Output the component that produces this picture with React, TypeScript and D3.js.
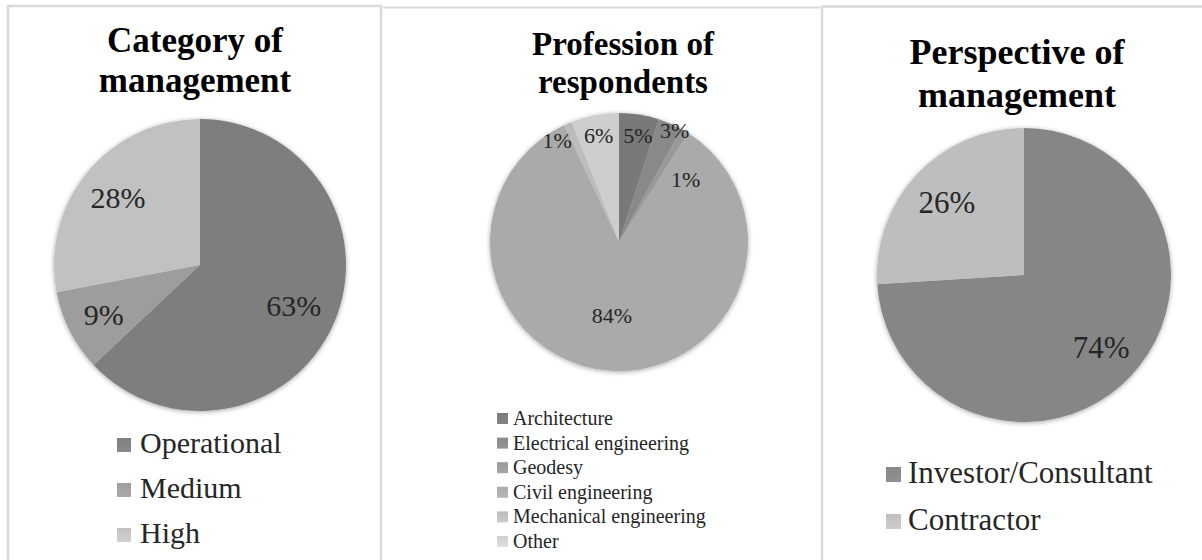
import React from "react";
import * as d3 from "d3";

// ---- data ----
const mgmtCategories = ["Operational", "Medium", "High"];
const mgmtValues = [63, 9, 28];

const professionCategories = [
  "Architecture",
  "Electrical engineering",
  "Geodesy",
  "Civil engineering",
  "Mechanical engineering",
  "Other",
];
const professionValues = [5, 3, 1, 84, 1, 6];

const perspectiveCategories = ["Investor/Consultant", "Contractor"];
const perspectiveValues = [74, 26];

// ---- styles / layout ----
const mgmtColors = ["#848484", "#a4a4a4", "#c9c9c9"];
const professionColors = ["#7e7e7e", "#8f8f8f", "#a0a0a0", "#b1b1b1", "#c4c4c4", "#d7d7d7"];
const perspectiveColors = ["#8c8c8c", "#c6c6c6"];

type PanelCfg = {
  id: string;
  cx: number;
  cy: number;
  r: number;
  title: string[];
  titleX: number;
  titleY: number[];
  titleSize: number;
  labelSize: number;
  labelFactor: number[];
  labelShift: number[];
  legendSquareX: number;
  legendSquare: number;
  legendTextX: number;
  legendY0: number;
  legendStep: number;
  legendSize: number;
};

const panels: PanelCfg[] = [
  {
    id: "p1",
    cx: 200,
    cy: 265,
    r: 146,
    title: ["Category of", "management"],
    titleX: 195,
    titleY: [52, 92],
    titleSize: 35,
    labelSize: 30,
    labelFactor: [0.7, 0.74, 0.73],
    labelShift: [0, 0, 0],
    legendSquareX: 117,
    legendSquare: 14,
    legendTextX: 140,
    legendY0: 453,
    legendStep: 45,
    legendSize: 30,
  },
  {
    id: "p2",
    cx: 619,
    cy: 242,
    r: 129,
    title: ["Profession of", "respondents"],
    titleX: 623,
    titleY: [55, 93],
    titleSize: 33,
    labelSize: 22,
    labelFactor: [0.84, 0.97, 0.71, 0.57, 0.92, 0.84],
    labelShift: [1, 3, 16, 2, -8, 0],
    legendSquareX: 497,
    legendSquare: 11,
    legendTextX: 513,
    legendY0: 425,
    legendStep: 24.6,
    legendSize: 20,
  },
  {
    id: "p3",
    cx: 1024,
    cy: 275,
    r: 147,
    title: ["Perspective of", "management"],
    titleX: 1017,
    titleY: [64, 107],
    titleSize: 36,
    labelSize: 31,
    labelFactor: [0.72, 0.72],
    labelShift: [0, 0],
    legendSquareX: 886,
    legendSquare: 15,
    legendTextX: 908,
    legendY0: 483,
    legendStep: 47,
    legendSize: 31,
  },
];

const FONT = "'Liberation Serif', 'Times New Roman', serif";

function shade(c: string, k: number) {
  const col = d3.color(c)!;
  return k >= 0 ? col.brighter(k).formatHex() : col.darker(-k).formatHex();
}

function PiePanel({
  cfg,
  cats,
  vals,
  colors,
}: {
  cfg: PanelCfg;
  cats: string[];
  vals: number[];
  colors: string[];
}) {
  const pie = d3
    .pie<number>()
    .sort(null)
    .value((d) => d);
  const arcs = pie(vals);
  const arc = d3.arc<d3.PieArcDatum<number>>().innerRadius(0).outerRadius(cfg.r);

  return (
    <g>
      <defs>
        {colors.map((c, i) => (
          <radialGradient
            key={i}
            id={`${cfg.id}-g${i}`}
            gradientUnits="userSpaceOnUse"
            cx={cfg.cx}
            cy={cfg.cy - cfg.r * 0.15}
            r={cfg.r * 1.1}
          >
            <stop offset="0%" stopColor={shade(c, 0.12)} />
            <stop offset="100%" stopColor={shade(c, -0.12)} />
          </radialGradient>
        ))}
        {colors.map((c, i) => (
          <linearGradient key={`l${i}`} id={`${cfg.id}-lg${i}`} x1="0" y1="0" x2="0" y2="1">
            <stop offset="0%" stopColor={shade(c, -0.1)} />
            <stop offset="100%" stopColor={shade(c, 0.1)} />
          </linearGradient>
        ))}
      </defs>
      <g transform={`translate(${cfg.cx},${cfg.cy})`} filter="url(#softShadow)">
        {arcs.map((a, i) => (
          <path key={i} d={arc(a) || ""} fill={`url(#${cfg.id}-g${i})`} stroke="none" />
        ))}
      </g>
      {arcs.map((a, i) => {
        const mid = (a.startAngle + a.endAngle) / 2 + (cfg.labelShift[i] * Math.PI) / 180;
        const rr = cfg.r * cfg.labelFactor[i];
        const [lx, ly] = d3
          .arc()
          .innerRadius(rr)
          .outerRadius(rr)
          .centroid({ startAngle: mid, endAngle: mid } as any);
        return (
          <text
            key={i}
            x={cfg.cx + lx}
            y={cfg.cy + ly}
            dy="0.35em"
            textAnchor="middle"
            fontFamily={FONT}
            fontSize={cfg.labelSize}
            fill="#262626"
          >
            {`${vals[i]}%`}
          </text>
        );
      })}
      {cfg.title.map((t, i) => (
        <text
          key={i}
          x={cfg.titleX}
          y={cfg.titleY[i]}
          textAnchor="middle"
          fontFamily={FONT}
          fontWeight="bold"
          fontSize={cfg.titleSize}
          fill="#000"
        >
          {t}
        </text>
      ))}
      {cats.map((c, i) => {
        const by = cfg.legendY0 + i * cfg.legendStep;
        return (
          <g key={c}>
            <rect
              x={cfg.legendSquareX}
              y={by - cfg.legendSquare - 1}
              width={cfg.legendSquare}
              height={cfg.legendSquare}
              fill={`url(#${cfg.id}-lg${i})`}
            />
            <text
              x={cfg.legendTextX}
              y={by}
              fontFamily={FONT}
              fontSize={cfg.legendSize}
              fill="#262626"
            >
              {c}
            </text>
          </g>
        );
      })}
    </g>
  );
}

export default function App() {
  const W = 1202;
  const H = 560;
  const border = "#d9d9d9";
  return (
    <svg
      width={W}
      height={H}
      style={{ position: "absolute", left: 0, top: 0, display: "block", background: "#fff" }}
    >
      <defs>
        <filter id="softShadow" x="-20%" y="-20%" width="140%" height="140%">
          <feGaussianBlur in="SourceAlpha" stdDeviation="2.5" />
          <feOffset dx="0" dy="1" result="blur" />
          <feComponentTransfer>
            <feFuncA type="linear" slope="0.35" />
          </feComponentTransfer>
          <feMerge>
            <feMergeNode />
            <feMergeNode in="SourceGraphic" />
          </feMerge>
        </filter>
      </defs>
      <rect x={0} y={0} width={W} height={H} fill="#fff" />
      {/* panel frames */}
      <path d={`M8,${H} V6 H381 V${H}`} fill="none" stroke={border} strokeWidth={2.5} />
      <line x1={383} y1={7.5} x2={820} y2={7.5} stroke={border} strokeWidth={2} />
      <path d={`M822,${H} V6.5 H${W}`} fill="none" stroke={border} strokeWidth={2.5} />

      <PiePanel cfg={panels[0]} cats={mgmtCategories} vals={mgmtValues} colors={mgmtColors} />
      <PiePanel
        cfg={panels[1]}
        cats={professionCategories}
        vals={professionValues}
        colors={professionColors}
      />
      <PiePanel
        cfg={panels[2]}
        cats={perspectiveCategories}
        vals={perspectiveValues}
        colors={perspectiveColors}
      />
    </svg>
  );
}
